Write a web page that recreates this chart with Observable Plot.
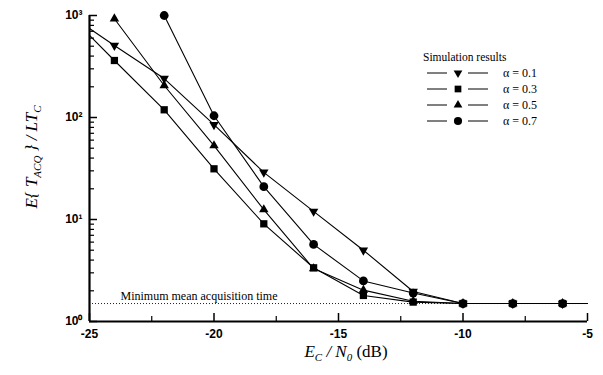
<!DOCTYPE html>
<html><head><meta charset="utf-8">
<script src="https://cdn.jsdelivr.net/npm/d3@7"></script>
<script src="https://cdn.jsdelivr.net/npm/@observablehq/plot@0.6"></script>
<style>html,body{margin:0;padding:0;background:#fff;} #chart{position:relative;width:603px;height:375px;}</style>
</head><body><div id="chart"></div>
<script>
// ---- data ----
const snr = [-25, -24, -22, -20, -18, -16, -14, -12, -10, -8, -6, -5];
const hasMarker = [false, true, true, true, true, true, true, true, true, true, true, false];
const alpha01 = [746, 508, 241, 85, 29, 12, 5.0, 1.97, 1.5, 1.5, 1.5, 1.5];
const alpha03 = [637, 362, 119, 31.4, 9.07, 3.36, 1.8, 1.55, 1.5, 1.5, 1.5, 1.5];
const alpha05 = [null, 929, 206, 53, 12.5, 3.3, 2.03, 1.58, 1.5, 1.5, 1.5, 1.5];
const alpha07 = [null, null, 1000, 104, 21, 5.7, 2.5, 1.9, 1.5, 1.5, 1.5, 1.5];
const seriesNames = ["α = 0.1", "α = 0.3", "α = 0.5", "α = 0.7"];
const minTime = 1.5;
const minLabel = "Minimum mean acquisition time";
const legendTitle = "Simulation results";
const xTicks = [-25, -20, -15, -10, -5];
const xMinorTicks = [-22.5, -17.5, -12.5, -7.5];
const yTicks = [1, 10, 100, 1000];
const yTickLabels = ["10⁰", "10¹", "10²", "10³"];

// ---- build ----
const seriesValues = [alpha01, alpha03, alpha05, alpha07];
const rows = [];
seriesValues.forEach((vals, k) => vals.forEach((v, i) => {
  if (v != null) rows.push({x: snr[i], y: v, s: seriesNames[k], marker: hasMarker[i]});
}));
const yMinor = [];
for (let e = 0; e < 3; e++) for (let m = 2; m <= 9; m++) yMinor.push(m * Math.pow(10, e));

const triDown = {draw(context, size) {
  const y = -Math.sqrt(size / (3 * Math.sqrt(3)));
  context.moveTo(0, -2 * y);
  context.lineTo(-Math.sqrt(3) * y, y);
  context.lineTo(Math.sqrt(3) * y, y);
  context.closePath();
}};
const symbols = [triDown, d3.symbolSquare, d3.symbolTriangle, d3.symbolCircle];
const radii = [3.5, 4.1, 3.5, 4.4];

const W = 603, H = 375, mL = 89, mR = 16, mT = 15, mB = 54;
const tickFont = {fontSize: 12, fontWeight: "bold", fontFamily: "Liberation Sans, Arial, sans-serif"};
const majorLen = 8, minorLen = 5;
// convert tick lengths (pixels) into data-space spans so Plot's rules draw them
const xMin = xTicks[0], xMax = xTicks[xTicks.length - 1];
const yMin = yTicks[0], yMax = yTicks[yTicks.length - 1];
const xPerPx = (xMax - xMin) / (W - mL - mR);
const decPerPx = Math.log10(yMax / yMin) / (H - mT - mB);
const xSpan = px => xMin + px * xPerPx;
const ySpan = px => yMin * Math.pow(10, px * decPerPx);

const chart = Plot.plot({
  width: W, height: H,
  marginLeft: mL, marginRight: mR, marginTop: mT, marginBottom: mB,
  style: {fontFamily: "Liberation Serif, Times New Roman, serif", background: "white", color: "black"},
  x: {domain: [xMin, xMax]},
  y: {type: "log", domain: [yMin, yMax]},
  marks: [
    Plot.ruleY([minTime], {stroke: "#222", strokeWidth: 1, strokeDasharray: "1,2"}),
    Plot.text([minLabel], {y: minTime, frameAnchor: "left", dx: 31, dy: -4, text: d => d,
      textAnchor: "start", lineAnchor: "bottom", fontSize: 12, fontFamily: "Liberation Serif, serif"}),
    Plot.line(rows, {x: "x", y: "y", z: "s", stroke: "black", strokeWidth: 1.1}),
    ...seriesNames.map((name, k) => Plot.dot(rows.filter(d => d.s === name && d.marker),
      {x: "x", y: "y", symbol: symbols[k], r: radii[k], fill: "black", stroke: "none"})),
    Plot.axisY(yTicks, {label: null, tickSize: 0, tickPadding: 7, tickFormat: d => yTickLabels[yTicks.indexOf(d)], ...tickFont}),
    Plot.axisX(xTicks, {label: null, tickSize: 0, tickPadding: 8, tickFormat: d => String(d), ...tickFont}),
    // inward tick marks
    Plot.ruleY(yTicks, {y: d => d, x1: xMin, x2: xSpan(majorLen), stroke: "black", strokeWidth: 1.5}),
    Plot.ruleY(yMinor, {y: d => d, x1: xMin, x2: xSpan(minorLen), stroke: "black", strokeWidth: 1.2}),
    Plot.ruleX(xTicks, {x: d => d, y1: yMin, y2: ySpan(majorLen), stroke: "black", strokeWidth: 1.5}),
    Plot.ruleX(xMinorTicks, {x: d => d, y1: yMin, y2: ySpan(minorLen), stroke: "black", strokeWidth: 1.2}),
    Plot.ruleX([xMin], {strokeWidth: 2.2}),
    Plot.ruleY([yMin], {strokeWidth: 2.2})
  ]
});
document.getElementById("chart").appendChild(chart);

const svg = d3.select(chart);
const serif = "Liberation Serif, Times New Roman, serif";

// y-axis title
const yt = svg.append("text").attr("transform", "translate(37,157) rotate(-90)")
  .attr("text-anchor", "middle").attr("font-family", serif).attr("font-size", 17).attr("fill", "black");
yt.append("tspan").attr("font-style", "italic").text("E{ T");
yt.append("tspan").attr("font-style", "italic").attr("font-size", 11).attr("dy", 4).text("ACQ");
yt.append("tspan").attr("font-style", "italic").attr("dy", -4).text(" } / LT");
yt.append("tspan").attr("font-style", "italic").attr("font-size", 11).attr("dy", 4).text("C");

// x-axis title
const xt = svg.append("text").attr("transform", "translate(346,357)")
  .attr("text-anchor", "middle").attr("font-family", serif).attr("font-size", 17).attr("fill", "black");
xt.append("tspan").attr("font-style", "italic").text("E");
xt.append("tspan").attr("font-style", "italic").attr("font-size", 11).attr("dy", 4).text("C");
xt.append("tspan").attr("font-style", "italic").attr("dy", -4).text(" / N");
xt.append("tspan").attr("font-style", "italic").attr("font-size", 11).attr("dy", 4).text("0");
xt.append("tspan").attr("dy", -4).text(" (dB)");

// legend
const lg = svg.append("g").attr("font-family", serif).attr("fill", "black").attr("text-anchor", "start");
lg.append("text").attr("x", 423).attr("y", 61).attr("font-size", 11.5).text(legendTitle);
seriesNames.forEach((name, k) => {
  const y = 73 + k * 16;
  lg.append("line").attr("x1", 427).attr("x2", 447).attr("y1", y).attr("y2", y).attr("stroke", "black").attr("stroke-width", 1);
  lg.append("line").attr("x1", 468).attr("x2", 488).attr("y1", y).attr("y2", y).attr("stroke", "black").attr("stroke-width", 1);
  lg.append("path").attr("transform", `translate(458,${y})`)
    .attr("d", d3.symbol().type(symbols[k]).size(Math.PI * radii[k] * radii[k] * 0.85)());
  lg.append("text").attr("x", 503).attr("y", y + 4).attr("font-size", 12).text(name);
});
</script></body></html>
